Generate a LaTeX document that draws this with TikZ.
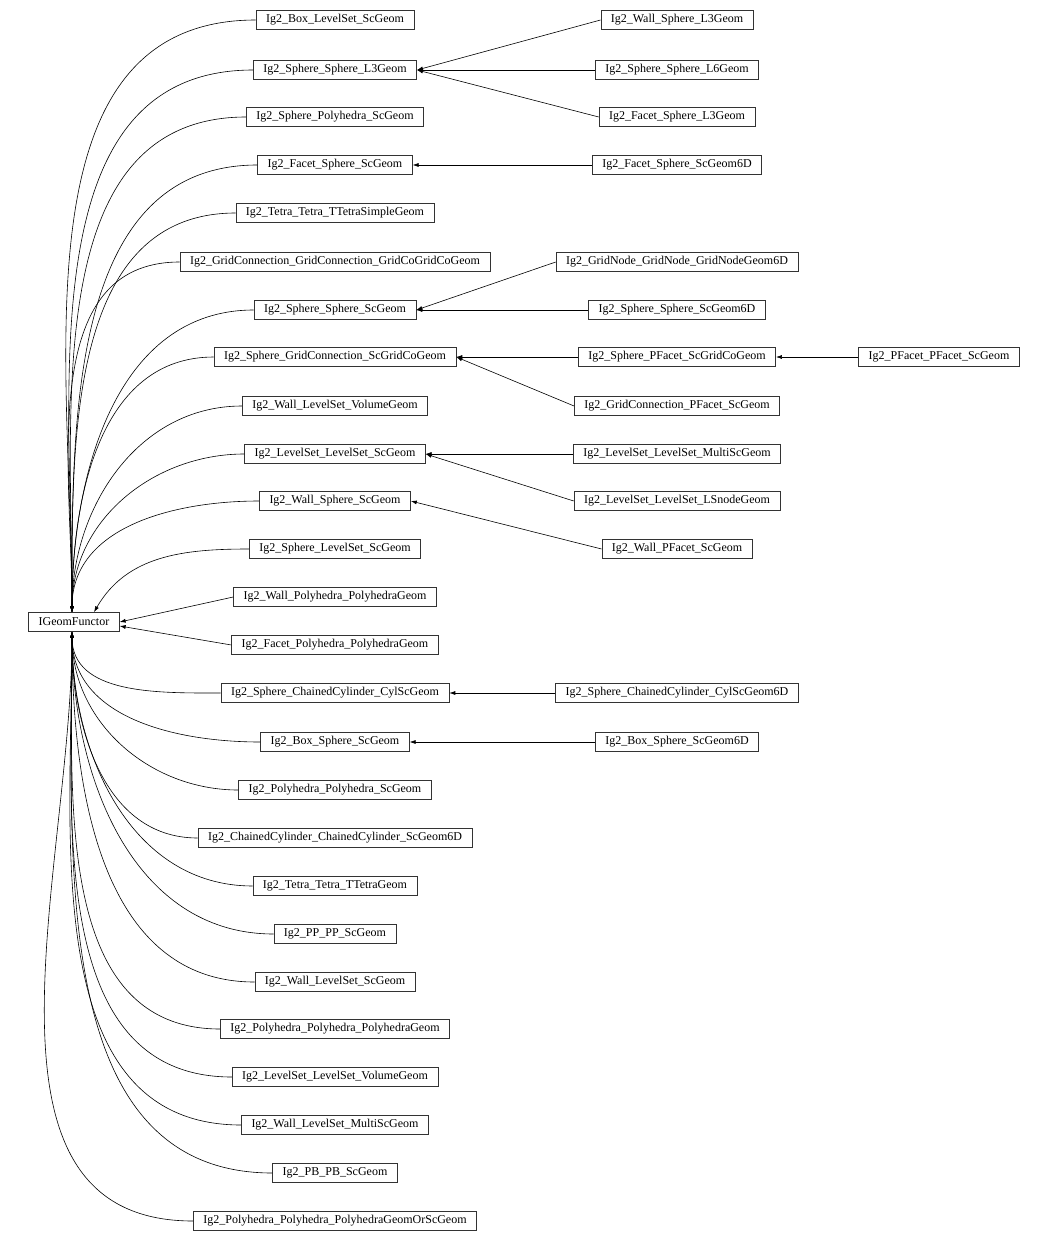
\documentclass[tikz,border=0pt]{standalone}
\usepackage{fontspec}
\setmainfont{Liberation Serif}
\usetikzlibrary{arrows.meta}
\tikzset{>={Latex[width=4pt,length=6pt]}}
\tikzset{cls/.style={draw=black!80,line width=0.6pt,inner xsep=10pt,minimum height=19pt,font=\fontsize{12}{14}\selectfont},
	inh/.style={->,line width=0.6pt}}

\begin{document}
\begin{tikzpicture}[x=1pt,y=-1pt]
		\useasboundingbox (0,0) rectangle (1049,1244);
		%root
		\node[cls] (root) at (74,622) {IGeomFunctor};
		%direct children
		\foreach \nm/\yy [count=\i] in {Ig2\_Box\_LevelSet\_ScGeom/20, Ig2\_Sphere\_Sphere\_L3Geom/70, Ig2\_Sphere\_Polyhedra\_ScGeom/117, Ig2\_Facet\_Sphere\_ScGeom/165, Ig2\_Tetra\_Tetra\_TTetraSimpleGeom/213, Ig2\_GridConnection\_GridConnection\_GridCoGridCoGeom/262, Ig2\_Sphere\_Sphere\_ScGeom/310, Ig2\_Sphere\_GridConnection\_ScGridCoGeom/357, Ig2\_Wall\_LevelSet\_VolumeGeom/406, Ig2\_LevelSet\_LevelSet\_ScGeom/454, Ig2\_Wall\_Sphere\_ScGeom/501}
		{
			\node[cls] (m\i) at (335,\yy) {\nm};
			\draw[inh] (m\i.west) to[out=180,in=90] ([xshift=-2pt]root.north);
		}
		\foreach \nm/\yy [count=\i from 15] in {Ig2\_Sphere\_ChainedCylinder\_CylScGeom/693, Ig2\_Box\_Sphere\_ScGeom/742, Ig2\_Polyhedra\_Polyhedra\_ScGeom/790, Ig2\_ChainedCylinder\_ChainedCylinder\_ScGeom6D/838, Ig2\_Tetra\_Tetra\_TTetraGeom/886, Ig2\_PP\_PP\_ScGeom/934, Ig2\_Wall\_LevelSet\_ScGeom/982, Ig2\_Polyhedra\_Polyhedra\_PolyhedraGeom/1029, Ig2\_LevelSet\_LevelSet\_VolumeGeom/1077, Ig2\_Wall\_LevelSet\_MultiScGeom/1125, Ig2\_PB\_PB\_ScGeom/1173, Ig2\_Polyhedra\_Polyhedra\_PolyhedraGeomOrScGeom/1221}
		{
			\node[cls] (m\i) at (335,\yy) {\nm};
			\draw[inh] (m\i.west) to[out=180,in=-90] ([xshift=-2pt]root.south);
		}
		\node[cls] (m12) at (335,549) {Ig2\_Sphere\_LevelSet\_ScGeom};
		\node[cls] (m13) at (335,597) {Ig2\_Wall\_Polyhedra\_PolyhedraGeom};
		\node[cls] (m14) at (335,645) {Ig2\_Facet\_Polyhedra\_PolyhedraGeom};
		\draw[inh] (m12.west) to[out=180,in=60] ([xshift=20pt]root.north);
		\draw[inh] (m13.west) -- (root.east);
		\draw[inh] (m14.west) -- ([yshift=-4pt]root.east);
		%second level
		\foreach \nm/\yy/\base [count=\i] in {Ig2\_Wall\_Sphere\_L3Geom/20/m2, Ig2\_Sphere\_Sphere\_L6Geom/70/m2, Ig2\_Facet\_Sphere\_L3Geom/117/m2, Ig2\_Facet\_Sphere\_ScGeom6D/165/m4, Ig2\_GridNode\_GridNode\_GridNodeGeom6D/262/m7, Ig2\_Sphere\_Sphere\_ScGeom6D/310/m7, Ig2\_Sphere\_PFacet\_ScGridCoGeom/357/m8, Ig2\_GridConnection\_PFacet\_ScGeom/406/m8, Ig2\_LevelSet\_LevelSet\_MultiScGeom/454/m10, Ig2\_LevelSet\_LevelSet\_LSnodeGeom/501/m10, Ig2\_Wall\_PFacet\_ScGeom/549/m11, Ig2\_Sphere\_ChainedCylinder\_CylScGeom6D/693/m15, Ig2\_Box\_Sphere\_ScGeom6D/742/m16}
		{
			\node[cls] (r\i) at (677,\yy) {\nm};
			\draw[inh] (r\i.west) -- (\base.east);
		}
		%third level
		\node[cls] (f1) at (939,357) {Ig2\_PFacet\_PFacet\_ScGeom};
		\draw[inh] (f1.west) -- (r7.east);
\end{tikzpicture}
\end{document}
